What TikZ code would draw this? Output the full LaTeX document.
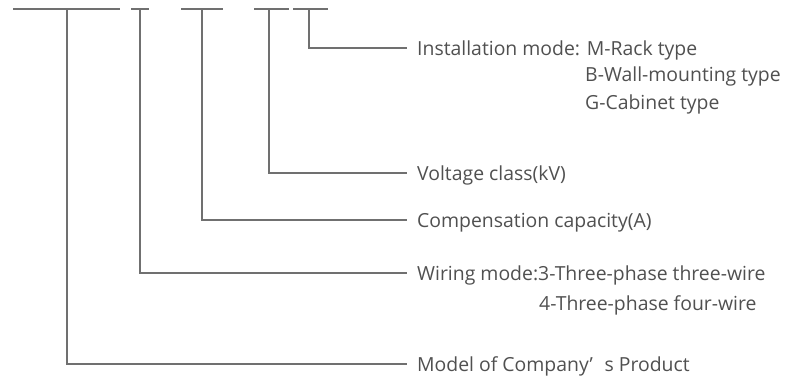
\documentclass[tikz,border=0pt]{standalone}
\usepackage{fontspec}
\setmainfont{Open Sans}
\definecolor{linegray}{HTML}{707070}
\definecolor{textgray}{HTML}{505050}
\begin{document}
\begin{tikzpicture}[x=1pt,y=-1pt,
  conn/.style={draw=linegray,line width=1.1pt},
  txt/.style={text=textgray,font=\fontsize{19.4}{23}\selectfont,text height=14pt,text depth=0pt,inner ysep=0pt},
  lab/.style={txt,anchor=west,inner xsep=10pt},
  sub/.style={txt,anchor=west,inner xsep=0pt}]
\useasboundingbox (0,0) rectangle (789,378);
% top bars
\coordinate (b1l) at (13,9);  \coordinate (b1r) at (120,9);
\coordinate (b2l) at (131,9); \coordinate (b2r) at (149,9);
\coordinate (b3l) at (181,9); \coordinate (b3r) at (223,9);
\coordinate (b4l) at (254,9); \coordinate (b4r) at (289,9);
\coordinate (b5l) at (293,9); \coordinate (b5r) at (328,9);
\coordinate (v1) at (67,9);
\coordinate (v2) at (140,9);
\coordinate (v3) at (202,9);
\coordinate (v4) at (269,9);
\coordinate (v5) at (309,9);
\draw[conn] (b1l) -- (b1r);
\draw[conn] (b2l) -- (b2r);
\draw[conn] (b3l) -- (b3r);
\draw[conn] (b4l) -- (b4r);
\draw[conn] (b5l) -- (b5r);
% labels
\node[lab] (inst) at (407,48) {Installation mode: M-Rack type};
\node[sub] (instB) at (585,74.5) {B-Wall-mounting type};
\node[sub] (instG) at (585,102.5) {G-Cabinet type};
\node[lab] (volt) at (407,173) {Voltage class(kV)};
\node[lab] (comp) at (407,220) {Compensation capacity(A)};
\node[lab] (wire) at (407,273) {Wiring mode:3-Three-phase three-wire};
\node[sub] (wire4) at (539,303) {4-Three-phase four-wire};
\node[lab] (model) at (407,364) {Model of Company’\hspace{0.6em}s Product};
% connectors
\draw[conn] (v5) |- (inst.west);
\draw[conn] (v4) |- (volt.west);
\draw[conn] (v3) |- (comp.west);
\draw[conn] (v2) |- (wire.west);
\draw[conn] (v1) |- (model.west);
\end{tikzpicture}
\end{document}
